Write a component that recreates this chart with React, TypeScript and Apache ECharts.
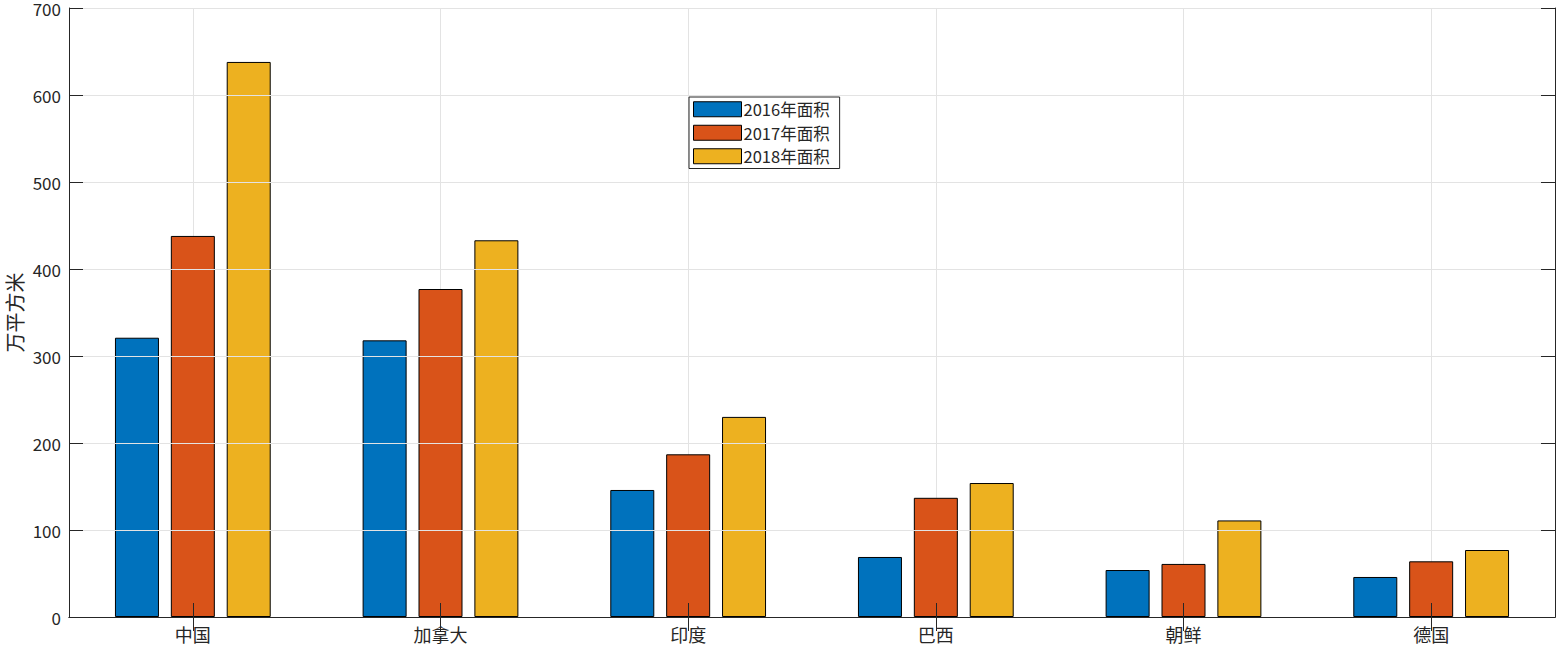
import React, { useEffect, useRef } from "react";
import * as echarts from "echarts";

const categories = ["中国", "加拿大", "印度", "巴西", "朝鲜", "德国"];
const seriesNames = ["2016年面积", "2017年面积", "2018年面积"];
const area2016 = [321, 318, 146, 69, 54, 46];
const area2017 = [438, 377, 187, 137, 61, 64];
const area2018 = [638, 433, 230, 154, 111, 77];
const colors = ["#0072BD", "#D95319", "#EDB120"];

export default function App() {
  const ref = useRef<HTMLDivElement>(null);
  useEffect(() => {
    document.body.style.margin = "0";
    const chart = echarts.init(ref.current!, null, { renderer: "svg" });
    const font = "'Noto Sans CJK SC', 'Noto Sans', sans-serif";
    const data = [area2016, area2017, area2018];
    // half-category positions used only for centred vertical grid lines
    const halfSteps = Array.from({ length: categories.length * 2 + 1 }, () => "");
    chart.setOption({
      animation: false,
      textStyle: { fontFamily: font },
      grid: { left: 69, right: 8, top: 8, bottom: 31, outerBoundsMode: "none", containLabel: false },
      legend: {
        orient: "vertical",
        left: 689,
        top: 97,
        data: seriesNames,
        icon: "rect",
        itemWidth: 48,
        itemHeight: 15,
        itemGap: 7,
        padding: [4, 10, 4, 4],
        borderColor: "#262626",
        borderWidth: 1,
        backgroundColor: "#fff",
        itemStyle: { borderColor: "#000", borderWidth: 1 },
        textStyle: { fontSize: 16.5, color: "#262626", fontFamily: font, padding: [0, 0, 0, -3] },
      },
      xAxis: [
        {
          type: "category",
          data: categories,
          boundaryGap: true,
          axisLine: { show: true, lineStyle: { color: "#262626", width: 1 } },
          axisTick: { show: true, inside: true, length: 14, alignWithLabel: true, lineStyle: { color: "#262626" } },
          axisLabel: { fontSize: 18, color: "#262626", margin: 8, fontFamily: font },
          splitLine: { show: false },
          z: 5,
        },
        {
          type: "category",
          data: categories,
          position: "top",
          boundaryGap: true,
          axisLine: { show: true, lineStyle: { color: "#262626", width: 1 } },
          axisTick: { show: true, inside: true, length: 14, alignWithLabel: true, lineStyle: { color: "#262626" } },
          axisLabel: { show: false },
          splitLine: { show: false },
          z: 5,
        },
        {
          type: "category",
          data: halfSteps,
          position: "bottom",
          boundaryGap: false,
          axisLine: { show: false },
          axisTick: { show: false },
          axisLabel: { show: false },
          splitLine: {
            show: true,
            interval: (index: number) => index % 2 === 1,
            lineStyle: { color: "#e3e3e3" },
          },
        },
      ],
      yAxis: [
        {
          type: "value",
          min: 0,
          max: 700,
          interval: 100,
          name: "万平方米",
          nameLocation: "middle",
          nameGap: 45,
          nameMoveOverlap: false,
          nameTextStyle: { fontSize: 20, color: "#262626", fontFamily: font },
          axisLine: { show: true, lineStyle: { color: "#262626", width: 1 } },
          axisTick: { show: true, inside: true, length: 14, lineStyle: { color: "#262626" } },
          axisLabel: { fontSize: 17, color: "#262626", margin: 8, fontFamily: font },
          splitLine: { show: true, lineStyle: { color: "#e3e3e3" } },
          z: 5,
        },
        {
          type: "value",
          min: 0,
          max: 700,
          interval: 100,
          position: "right",
          axisLine: { show: true, lineStyle: { color: "#262626", width: 1 } },
          axisTick: { show: true, inside: true, length: 14, lineStyle: { color: "#262626" } },
          axisLabel: { show: false },
          splitLine: { show: false },
          z: 5,
        },
      ],
      series: seriesNames.map((name, i) => ({
        name,
        type: "bar",
        data: data[i],
        barWidth: 44,
        barGap: "27%",
        itemStyle: { color: colors[i], borderColor: "#000", borderWidth: 1 },
      })),
    });
    return () => chart.dispose();
  }, []);
  return <div ref={ref} style={{ width: 1563, height: 648 }} />;
}
